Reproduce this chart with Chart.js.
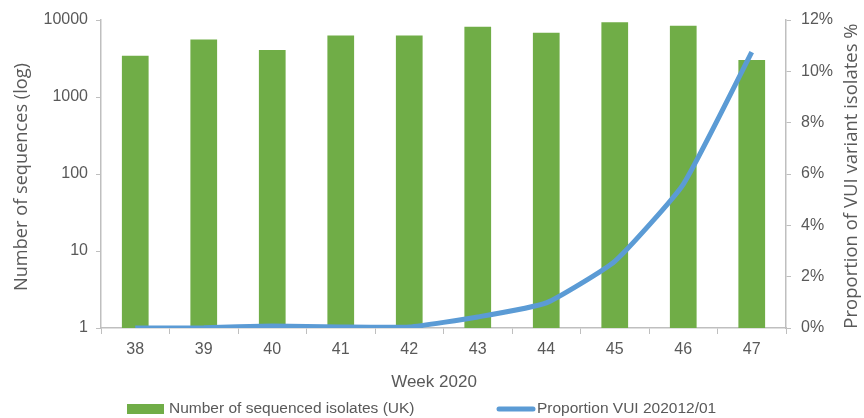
<!DOCTYPE html>
<html>
<head>
<meta charset="utf-8">
<script src="https://cdn.jsdelivr.net/npm/chart.js@4/dist/chart.umd.min.js"></script>
<style>
    body { margin: 0; background: #fff; }
    #wrap { width: 864px; height: 418px; }
</style>
</head>
<body>
<div id="wrap"><canvas id="bar-chart"></canvas></div>
<script>
const weeks = ['38', '39', '40', '41', '42', '43', '44', '45', '46', '47'];
const sequenced = [3430, 5600, 4080, 6300, 6300, 8200, 6850, 9350, 8450, 3020];
const proportion = [0, 0.01, 0.08, 0.04, 0.04, 0.43, 0.98, 2.6, 5.6, 10.75];
const logTicks = [1, 10, 100, 1000, 10000];

const textColor = '#595959';
const axisColor = '#BFBFBF';
const tickFont = { family: 'Liberation Sans', size: 16 };

// fit a string to a given length by scaling the font size
function fitFont(c, text, family, length) {
    c.font = '100px ' + family;
    const size = 100 * length / c.measureText(text).width;
    c.font = size.toFixed(1) + 'px ' + family;
}

// axis titles and legend drawn by hand so they sit where the original has them
const decorations = {
    id: 'decorations',
    afterDraw(chart) {
        const c = chart.ctx;
        const bars = chart.data.datasets[1];
        const line = chart.data.datasets[0];
        c.save();
        c.fillStyle = textColor;
        c.textBaseline = 'middle';
        c.textAlign = 'center';

        c.save();
        fitFont(c, 'Number of sequences (log)', '"Open Sans"', 228);
        c.translate(22, 177);
        c.rotate(-Math.PI / 2);
        c.fillText('Number of sequences (log)', 0, 0);
        c.restore();

        c.save();
        fitFont(c, 'Proportion of VUI variant isolates %', '"Open Sans"', 306);
        c.translate(852, 176);
        c.rotate(-Math.PI / 2);
        c.fillText('Proportion of VUI variant isolates %', 0, 0);
        c.restore();

        c.font = '17px "Liberation Sans"';
        c.fillText('Week 2020', 434, 382);

        // legend
        c.font = '15.5px "Liberation Sans"';
        c.textAlign = 'left';
        c.fillStyle = bars.backgroundColor;
        c.fillRect(127, 404, 37, 10);
        c.fillStyle = textColor;
        c.fillText(bars.label, 169, 409);

        c.strokeStyle = line.borderColor;
        c.lineWidth = 5;
        c.lineCap = 'round';
        c.beginPath();
        c.moveTo(499, 409);
        c.lineTo(533, 409);
        c.stroke();
        c.fillText(line.label, 537, 409);
        c.restore();
    }
};

const ctx = document.getElementById('bar-chart').getContext('2d');
const chart = new Chart(ctx, {
    type: 'bar',
    data: {
        labels: weeks,
        datasets: [{
            type: 'line',
            label: 'Proportion VUI 202012/01',
            data: proportion,
            yAxisID: 'y1',
            borderColor: '#5B9BD5',
            borderWidth: 5,
            pointRadius: 0,
            tension: 0.15,
            order: 0
        }, {
            label: 'Number of sequenced isolates (UK)',
            data: sequenced,
            yAxisID: 'y',
            backgroundColor: '#70AD47',
            barPercentage: 0.39,
            categoryPercentage: 1,
            order: 1
        }]
    },
    options: {
        responsive: true,
        maintainAspectRatio: false,
        animation: false,
        layout: { padding: { top: 20 } },
        scales: {
            x: {
                grid: {
                    offset: true,
                    drawOnChartArea: false,
                    color: axisColor,
                    tickLength: 6
                },
                border: { color: axisColor, width: 1.5 },
                ticks: { color: textColor, font: tickFont, padding: 6 },
                afterFit(scale) { scale.height = 90; }
            },
            y: {
                type: 'logarithmic',
                position: 'left',
                min: 1,
                max: 10000,
                grid: { drawOnChartArea: false, color: axisColor, tickLength: 5 },
                border: { color: axisColor, width: 1.5 },
                ticks: {
                    color: textColor,
                    font: tickFont,
                    padding: 8,
                    callback: (v) => String(v)
                },
                afterBuildTicks(scale) {
                    scale.ticks = logTicks.map(v => ({ value: v }));
                },
                afterFit(scale) { scale.width = 101; }
            },
            y1: {
                position: 'right',
                min: 0,
                max: 12,
                grid: { drawOnChartArea: false, color: axisColor, tickLength: 5 },
                border: { color: axisColor, width: 1.5 },
                ticks: {
                    stepSize: 2,
                    color: textColor,
                    font: tickFont,
                    padding: 10,
                    callback: (v) => v + '%'
                },
                afterFit(scale) { scale.width = 78; }
            }
        },
        plugins: {
            legend: { display: false },
            tooltip: { enabled: false }
        }
    },
    plugins: [decorations]
});
</script>
</body>
</html>
